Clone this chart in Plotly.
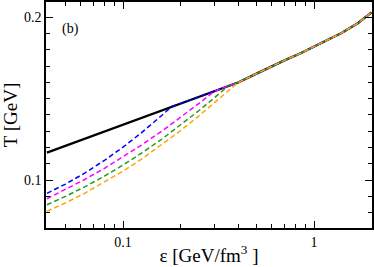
import plotly.graph_objects as go

# Black solid curve
eps_black = [0.04, 0.1, 0.2, 0.3, 0.4, 0.5, 0.6, 0.7, 0.85, 1.0, 1.2, 1.4, 1.7, 2.0]
T_black = [0.1168, 0.1340, 0.1470, 0.1545, 0.1599, 0.1654, 0.1700, 0.1735, 0.1779, 0.1819, 0.1862, 0.1905, 0.1965, 0.2030]

# Dashed curves (low-energy part; they merge onto the black curve afterwards)
eps_blue = [0.04, 0.05, 0.063, 0.08, 0.1, 0.125, 0.16, 0.18]
T_blue = [0.0918, 0.0975, 0.1042, 0.1121, 0.1202, 0.1291, 0.1398, 0.1452]

eps_magenta = [0.04, 0.05, 0.063, 0.08, 0.1, 0.125, 0.16, 0.2, 0.25, 0.30]
T_magenta = [0.0885, 0.0941, 0.1003, 0.1072, 0.1141, 0.1215, 0.1301, 0.1384, 0.1471, 0.1545]

eps_green = [0.04, 0.05, 0.063, 0.08, 0.1, 0.125, 0.16, 0.2, 0.25, 0.32, 0.36]
T_green = [0.0848, 0.0899, 0.0958, 0.1024, 0.1092, 0.1165, 0.1252, 0.1337, 0.1427, 0.1532, 0.1584]

eps_orange = [0.04, 0.05, 0.063, 0.08, 0.1, 0.125, 0.16, 0.2, 0.25, 0.32, 0.4]
T_orange = [0.0808, 0.0859, 0.0918, 0.0986, 0.1054, 0.1128, 0.1217, 0.1303, 0.1395, 0.1502, 0.1599]

x_major = [0.1, 1]
x_major_text = ["0.1", "1"]
x_minor = [0.05, 0.06, 0.07, 0.08, 0.09, 0.2, 0.3, 0.4, 0.5, 0.6, 0.7, 0.8, 0.9, 2]
y_major = [0.1, 0.2]
y_major_text = ["0.1", "0.2"]


def extend(ex, ty):
    # follow the black curve after merging
    last = ex[-1]
    xs = list(ex) + [e for e in eps_black if e > last]
    ys = list(ty) + [t for e, t in zip(eps_black, T_black) if e > last]
    return xs, ys


fig = go.Figure()
fig.add_trace(go.Scatter(x=eps_black, y=T_black, mode="lines",
                         line=dict(color="black", width=2.3), showlegend=False))
for ex, ty, col in [(eps_blue, T_blue, "#0000ff"),
                    (eps_magenta, T_magenta, "#ff00ff"),
                    (eps_green, T_green, "#1f9a1f"),
                    (eps_orange, T_orange, "#ffa500")]:
    xs, ys = extend(ex, ty)
    fig.add_trace(go.Scatter(x=xs, y=ys, mode="lines",
                             line=dict(color=col, width=1.5, dash="5px,3px"),
                             showlegend=False))

serif = "Liberation Serif"
fig.update_layout(
    width=374, height=267,
    margin=dict(l=46, r=2, t=2, b=39),
    paper_bgcolor="white", plot_bgcolor="white",
    font=dict(family=serif, color="black", size=14),
    xaxis=dict(type="log", range=[-1.403, 0.303], automargin=False,
               tickmode="array", tickvals=x_major, ticktext=x_major_text,
               ticks="inside", ticklen=7, tickwidth=1.2, tickcolor="black",
               minor=dict(tickmode="array", tickvals=x_minor, ticks="inside",
                          ticklen=4, tickwidth=1.2, tickcolor="black", showgrid=False),
               showline=True, linecolor="black", linewidth=1.5, mirror="ticks",
               showgrid=False, zeroline=False,
               tickfont=dict(family=serif, size=14),
               title=dict(text="ε [GeV/fm<sup>3</sup> ]", font=dict(family=serif, size=19),
                          standoff=0)),
    yaxis=dict(type="linear", range=[0.0705, 0.2094], automargin=False,
               tickmode="array", tickvals=y_major, ticktext=y_major_text,
               ticks="inside", ticklen=7, tickwidth=1.2, tickcolor="black",
               minor=dict(tick0=0, dtick=0.01, ticks="inside",
                          ticklen=4, tickwidth=1.2, tickcolor="black", showgrid=False),
               showline=True, linecolor="black", linewidth=1.5, mirror="ticks",
               showgrid=False, zeroline=False,
               tickfont=dict(family=serif, size=14),
               title=dict(text="T [GeV]", font=dict(family=serif, size=19), standoff=1)),
    annotations=[dict(text="(b)", xref="paper", yref="paper", x=0.042, y=0.88,
                      xanchor="left", yanchor="middle", showarrow=False,
                      font=dict(family=serif, size=14))],
)

fig.write_html("out.html", config={"displayModeBar": False},
               post_script="document.body.style.margin='0';document.body.style.overflow='hidden';")
